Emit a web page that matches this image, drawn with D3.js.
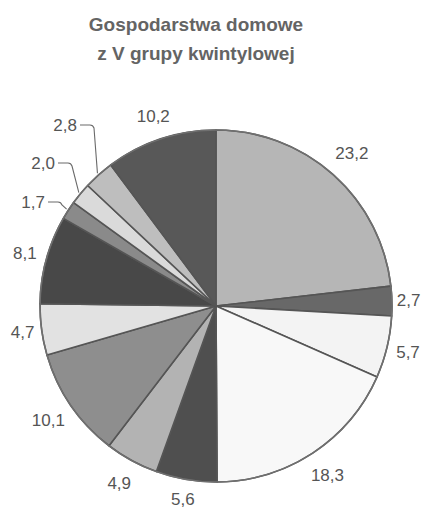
<!DOCTYPE html>
<html><head><meta charset="utf-8">
<script src="https://cdn.jsdelivr.net/npm/d3@7"></script>
<style>body{margin:0;background:#fff}</style>
</head><body>
<svg id="c" width="425" height="514"></svg>
<script>
const titleLines = ["Gospodarstwa domowe", "z V grupy kwintylowej"];
const values = [23.2, 2.7, 5.7, 18.3, 5.6, 4.9, 10.1, 4.7, 8.1, 1.7, 2.0, 2.8, 10.2];
const labels = ["23,2","2,7","5,7","18,3","5,6","4,9","10,1","4,7","8,1","1,7","2,0","2,8","10,2"];
const fills = ["#b6b6b6","#686868","#f3f3f3","#f8f8f8","#4f4f4f","#b3b3b3","#8e8e8e","#e2e2e2","#484848","#8a8a8a","#dadada","#bebebe","#585858"];

const svg = d3.select("#c");
const cx = 216, cy = 306, R = 176;

svg.selectAll("text.title").data(titleLines).join("text")
  .attr("class","title")
  .attr("x",196).attr("y",(d,i)=>31+i*29)
  .attr("text-anchor","middle")
  .style("font-family","Liberation Sans, Arial, sans-serif")
  .style("font-weight","bold").style("font-size","19px").style("fill","#646464")
  .text(d=>d);

const pie = d3.pie().sort(null).value(d=>d);
const arcs = pie(values);
const arc = d3.arc().innerRadius(0).outerRadius(R);
const g = svg.append("g").attr("transform",`translate(${cx},${cy})`);

g.selectAll("path").data(arcs).join("path")
  .attr("d",arc)
  .attr("fill",(d,i)=>fills[i])
  .attr("stroke","#555").attr("stroke-width",1.6).attr("stroke-linejoin","round");

g.append("circle").attr("r",R).attr("fill","none").attr("stroke","#707070").attr("stroke-width",1.5);

// leader-line labels for the three small slices (layout: label y, text end x relative to center)
const leader = {9:{ty:-104, tx:-171}, 10:{ty:-143, tx:-161}, 11:{ty:-181, tx:-139}};

arcs.forEach((d,i)=>{
  const mid = (d.startAngle + d.endAngle)/2;
  const style = t => t.style("font-family","Liberation Sans, Arial, sans-serif")
      .style("font-size","17px").style("fill","#555");
  if (leader[i]) {
    const L = leader[i];
    const ex = (R+2)*Math.sin(mid), ey = -(R+2)*Math.cos(mid);
    const elbowX = L.tx + 15;
    const path = d3.path();
    path.moveTo(L.tx+3, L.ty);
    path.lineTo(elbowX-2, L.ty);
    path.quadraticCurveTo(elbowX+1, L.ty, elbowX+2, L.ty+3);
    path.lineTo(ex, ey);
    g.append("path").attr("d",path.toString()).attr("fill","none")
      .attr("stroke","#6a6a6a").attr("stroke-width",1.1);
    style(g.append("text").attr("x",L.tx).attr("y",L.ty)
      .attr("text-anchor","end").attr("dominant-baseline","central").text(labels[i]));
  } else {
    // text boxes sit farther out on the diagonals than on the axes
    const lr = R + 16 + 12*Math.abs(Math.sin(2*mid));
    const x = lr*Math.sin(mid), y = -lr*Math.cos(mid);
    style(g.append("text").attr("x",x).attr("y",y)
      .attr("text-anchor","middle").attr("dominant-baseline","central").text(labels[i]));
  }
});
</script>
</body></html>
